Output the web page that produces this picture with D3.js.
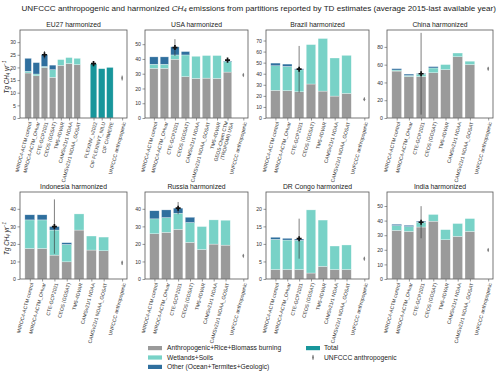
<!DOCTYPE html>
<html>
<head>
<meta charset="utf-8">
<script src="https://cdn.jsdelivr.net/npm/d3@7"></script>
<style>
  body { margin: 0; background: #fff; }
  text { font-family: "Liberation Sans", Arial, sans-serif; }
</style>
</head>
<body>
<div id="chart"></div>
<script>
// panel names
const regions = ["EU27 harmonized", "USA harmonized", "Brazil harmonized", "China harmonized",
                 "Indonesia harmonized", "Russia harmonized", "DR Congo harmonized", "India harmonized"];

const std7 = ["MIROC4-ACTM control", "MIROC4-ACTM_OHvar", "CTE-GCP2021", "CEOS (GOSAT)",
              "TM5-4DVAR", "CAMSv21r1 NOAA", "CAMSv21r1 NOAA_GOSAT"];
const categories = [
  std7.concat(["", "FLEXINV_v2022", "CIF FLEXINVT_NILU", "CIF CHIMERE"]),
  ["MIROC4-ACTM control", "MIROC4-ACTM_OHvar", "CTE-GCP2021", "CEOS (GOSAT)",
   "CAMSv21r1 NOAA", "CAMSv21r1 NOAA_GOSAT", "TM5-4DVAR", "GEOS-Chem CTM\n(TROPOMI) USA"],
  std7, std7, std7, std7, std7, std7
];

// Tg CH4/yr, stacked components
const anthro = [
  [17.8, 16.7, 20.0, 16.1, 20.8, 21.5, 21.1, null, null, null, null],
  [33.6, 33.6, 39.8, 28.0, 26.8, 27.0, 26.8, 31.1],
  [25.0, 24.7, 23.7, 30.7, 24.3, 19.8, 22.2],
  [52.8, 46.7, 46.7, 50.9, 54.4, 68.9, 60.1],
  [17.4, 17.4, 13.6, 9.8, 27.9, 16.5, 16.1],
  [25.8, 26.6, 28.3, 20.9, 16.8, 19.9, 19.3],
  [2.7, 2.7, 2.7, 1.7, 3.6, 2.7, 2.7],
  [33.3, 32.6, 35.6, 39.6, 26.9, 29.2, 32.6]
];
const wetlands = [
  [0.7, 0.7, 0.4, 3.0, 2.3, 2.4, 2.5, null, null, null, null],
  [2.8, 2.8, 2.9, 14.7, 15.0, 15.3, 15.5, 7.1],
  [22.2, 21.9, 19.8, 35.6, 47.5, 34.4, 34.4],
  [1.2, 1.1, 2.7, 5.4, 5.7, 4.2, 3.8],
  [16.3, 16.3, 14.3, 9.9, 9.2, 8.0, 7.8],
  [8.5, 8.4, 9.2, 11.3, 13.1, 13.8, 14.2],
  [8.6, 8.4, 8.3, 18.0, 13.2, 6.7, 7.0],
  [3.3, 3.3, 3.3, 4.6, 6.9, 8.8, 8.8]
];
const other = [
  [5.1, 4.5, 4.7, 1.8, 0, 0, 0, null, null, null, null],
  [5.0, 5.0, 5.5, 2.3, 0, 0, 0, 0.4],
  [2.4, 2.1, 0.9, 0, 0, 0, 0],
  [1.5, 1.6, 0.7, 1.5, 0, 0, 0],
  [2.9, 2.9, 2.0, 1.0, 0, 0, 0],
  [4.6, 4.4, 2.9, 3.0, 0, 0, 0],
  [0.6, 0.5, 0.4, 0, 0, 0, 0],
  [0.9, 0.9, 0.7, 0, 0, 0, 0]
];
// regional inversions reporting totals only (EU27)
const totals = [
  [null, null, null, null, null, null, null, null, 21.4, 19.5, 20.0],
  [], [], [], [], [], [], []
];

// error bars on reported totals
const errCat  = [[2, 8], [2, 7], [2], [2], [2], [2], [2], [2]];
const errMid  = [[25.0, 21.5], [47.7, 39.2], [44.1], [49.8], [29.9], [40.4], [11.5], [38.9]];
const errHalf = [[1.5, 1.0], [5.7, 1.2], [21.0], [46.0], [15.5], [3.5], [5.7], [11.0]];

// UNFCCC anthropogenic
const unfccc    = [15.8, 29.1, 17.0, 55.5, 9.2, 13.2, 5.8, 19.9];
const unfcccErr = [1.0, 1.0, 1.5, 2.0, 1.2, 0.8, 0.5, 1.0];

const yMax = [34.8, 59.6, 79.5, 99, 49.6, 49.6, 24.8, 59.6];
const yTicks = [
  [0, 5, 10, 15, 20, 25, 30],
  [0, 10, 20, 30, 40, 50],
  [0, 10, 20, 30, 40, 50, 60, 70],
  [0, 20, 40, 60, 80],
  [0, 10, 20, 30, 40],
  [0, 10, 20, 30, 40],
  [0, 5, 10, 15, 20],
  [0, 10, 20, 30, 40, 50]
];

const legendLabels = ["Anthropogenic+Rice+Biomass burning", "Wetlands+Soils",
                      "Other (Ocean+Termites+Geologic)", "Total", "UNFCCC anthropogenic"];

const colors = { a: "#9a9a9a", w: "#78d2c7", o: "#2f6f9e", total: "#18969b", unf: "#7a7a7a" };

const width = 500, height = 375;
const colLeft = [20, 145, 266, 387];
const colRight = [127, 248, 369, 493];
const rowTop = [30, 192];
const rowBottom = [118, 279];

const svg = d3.select("#chart").append("svg")
  .attr("width", width)
  .attr("height", height);

// title
const title = svg.append("text")
  .attr("x", 21.5)
  .attr("y", 10.5)
  .attr("font-size", 8)
  .attr("fill", "#222");
title.append("tspan").text("UNFCCC anthropogenic and harmonized ");
title.append("tspan").attr("font-style", "italic").text("CH");
title.append("tspan").attr("font-style", "italic").attr("font-size", 5.6).attr("dy", 1.6).text("4");
title.append("tspan").attr("dy", -1.6).text(" emissions from partitions reported by TD estimates (average 2015-last available year)");
const tl = title.node().getComputedTextLength();
title.attr("font-size", 8 * 475 / tl);

regions.forEach((name, i) => {
  const col = i % 4, row = Math.floor(i / 4);
  const x0 = colLeft[col], x1 = colRight[col];
  const y0 = rowTop[row], y1 = rowBottom[row];
  const cats = categories[i];
  const n = cats.length;
  const uPos = n + 0.5;
  const pad = 0.05 * (uPos + 0.4);

  const x = d3.scaleLinear().domain([-0.4 - pad, uPos + pad]).range([x0, x1]);
  const y = d3.scaleLinear().domain([0, yMax[i]]).range([y1, y0]);

  const g = svg.append("g");

  // stacked bars
  const rows = cats.map((c, j) => ({ j: j, a: anthro[i][j], w: wetlands[i][j], o: other[i][j] }))
    .filter(d => d.a != null);
  const series = d3.stack().keys(["a", "w", "o"]).value((d, k) => d[k] || 0)(rows);
  series.forEach(s => {
    g.append("g").selectAll("rect")
      .data(s.filter(d => d[1] - d[0] > 0))
      .join("rect")
      .attr("x", d => x(d.data.j - 0.4))
      .attr("width", d => x(0.8) - x(0))
      .attr("y", d => y(d[1]))
      .attr("height", d => y(d[0]) - y(d[1]))
      .attr("fill", colors[s.key])
      .attr("stroke", "#fff")
      .attr("stroke-opacity", 0.6)
      .attr("stroke-width", 0.5);
  });

  // total-only bars
  const tot = (totals[i] || []).map((v, j) => ({ j: j, v: v })).filter(d => d.v != null);
  g.append("g").selectAll("rect")
    .data(tot)
    .join("rect")
    .attr("x", d => x(d.j - 0.4))
    .attr("width", x(0.8) - x(0))
    .attr("y", d => y(d.v))
    .attr("height", d => y(0) - y(d.v))
    .attr("fill", colors.total)
    .attr("stroke", "#fff")
    .attr("stroke-opacity", 0.6)
    .attr("stroke-width", 0.5);

  // error bars
  const errs = errCat[i].map((c, k) => ({ j: c, m: errMid[i][k], h: errHalf[i][k] }));
  const eg = g.append("g").selectAll("g").data(errs).join("g");
  eg.append("line")
    .attr("x1", d => x(d.j)).attr("x2", d => x(d.j))
    .attr("y1", d => y(d.m + d.h)).attr("y2", d => y(d.m - d.h))
    .attr("stroke", "#333").attr("stroke-opacity", 0.7).attr("stroke-width", 0.9);
  eg.append("path")
    .attr("transform", d => `translate(${x(d.j)},${y(d.m)})`)
    .attr("d", d3.symbol(d3.symbolCross, 14))
    .attr("fill", "#111");

  // UNFCCC point
  const ug = g.append("g");
  ug.append("line")
    .attr("x1", x(uPos)).attr("x2", x(uPos))
    .attr("y1", y(unfccc[i] + unfcccErr[i])).attr("y2", y(unfccc[i] - unfcccErr[i]))
    .attr("stroke", colors.unf).attr("stroke-width", 0.8);
  ug.append("path")
    .attr("transform", `translate(${x(uPos)},${y(unfccc[i])}) scale(0.7,1)`)
    .attr("d", d3.symbol(d3.symbolDiamond, 6))
    .attr("fill", colors.unf);

  // frame
  g.append("rect")
    .attr("x", x0).attr("y", y0)
    .attr("width", x1 - x0).attr("height", y1 - y0)
    .attr("fill", "none")
    .attr("stroke", "#555")
    .attr("stroke-width", 0.8);

  // y axis
  const ya = g.append("g")
    .attr("transform", `translate(${x0},0)`)
    .call(d3.axisLeft(y).tickValues(yTicks[i]).tickSize(2.5).tickPadding(1.5));
  ya.select(".domain").remove();
  ya.selectAll("line").attr("stroke", "#555").attr("stroke-width", 0.6);
  ya.selectAll("text").attr("font-size", 5.2).attr("fill", "#333")
    .attr("font-family", "Liberation Sans, Arial, sans-serif");

  // x axis
  const tickPos = cats.map((c, j) => j).filter(j => cats[j] !== "").concat([uPos]);
  const labelOf = p => (p === uPos ? "UNFCCC anthropogenic" : cats[p]);
  const xa = g.append("g")
    .attr("transform", `translate(0,${y1})`)
    .call(d3.axisBottom(x).tickValues(tickPos).tickSize(2.5).tickFormat(""));
  xa.select(".domain").remove();
  xa.selectAll("line").attr("stroke", "#555").attr("stroke-width", 0.6);
  xa.selectAll(".tick").each(function (p) {
    const lines = labelOf(p).split("\n");
    const t = d3.select(this).append("text")
      .attr("transform", "translate(1.5,4) rotate(-75)")
      .attr("text-anchor", "end")
      .attr("font-size", 5)
      .attr("fill", "#333")
      .attr("font-family", "Liberation Sans, Arial, sans-serif");
    lines.forEach((l, k) => {
      t.append("tspan").attr("x", 0)
        .attr("dy", k === 0 ? (lines.length > 1 ? "-0.3em" : "0.35em") : "1.1em")
        .text(l);
    });
  });

  // panel title
  g.append("text")
    .attr("x", (x0 + x1) / 2)
    .attr("y", y0 - 3)
    .attr("text-anchor", "middle")
    .attr("font-size", 6.8)
    .attr("fill", "#222")
    .text(name);

  // y label on first column
  if (col === 0) {
    const yl = g.append("text")
      .attr("transform", `translate(8.5,${(y0 + y1) / 2 + 3}) rotate(-90)`)
      .attr("text-anchor", "middle")
      .attr("font-size", 6.3)
      .attr("font-style", "italic")
      .attr("fill", "#222")
      .attr("font-family", "DejaVu Sans, sans-serif");
    yl.append("tspan").text("Tg CH");
    yl.append("tspan").attr("font-size", 4.5).attr("dy", 1.5).text("4");
    yl.append("tspan").attr("dy", -1.5).text(" yr");
    yl.append("tspan").attr("font-size", 4.5).attr("dy", -2.8).text("\u22121");
  }
});

// legend
const legend = svg.append("g").attr("font-family", "DejaVu Sans, sans-serif");
const legCols = [
  { sx: 148, tx: 167, items: [0, 1, 2] },
  { sx: 306, tx: 324, items: [3, 4] }
];
const legColor = [colors.a, colors.w, colors.o, colors.total];
legCols.forEach(c => {
  c.items.forEach((k, r) => {
    const ly = 348 + r * 9.4;
    if (k < 4) {
      legend.append("rect")
        .attr("x", c.sx).attr("y", ly - 2)
        .attr("width", 14).attr("height", 4.2)
        .attr("fill", legColor[k]);
    } else {
      legend.append("line")
        .attr("x1", c.sx + 7).attr("x2", c.sx + 7)
        .attr("y1", ly - 2.5).attr("y2", ly + 2.5)
        .attr("stroke", colors.unf).attr("stroke-width", 0.8);
      legend.append("path")
        .attr("transform", `translate(${c.sx + 7},${ly}) scale(0.7,1)`)
        .attr("d", d3.symbol(d3.symbolDiamond, 6))
        .attr("fill", colors.unf);
    }
    legend.append("text")
      .attr("x", c.tx).attr("y", ly + 2.3)
      .attr("font-size", 6.7)
      .attr("fill", "#222")
      .text(legendLabels[k]);
  });
});
</script>
</body>
</html>
